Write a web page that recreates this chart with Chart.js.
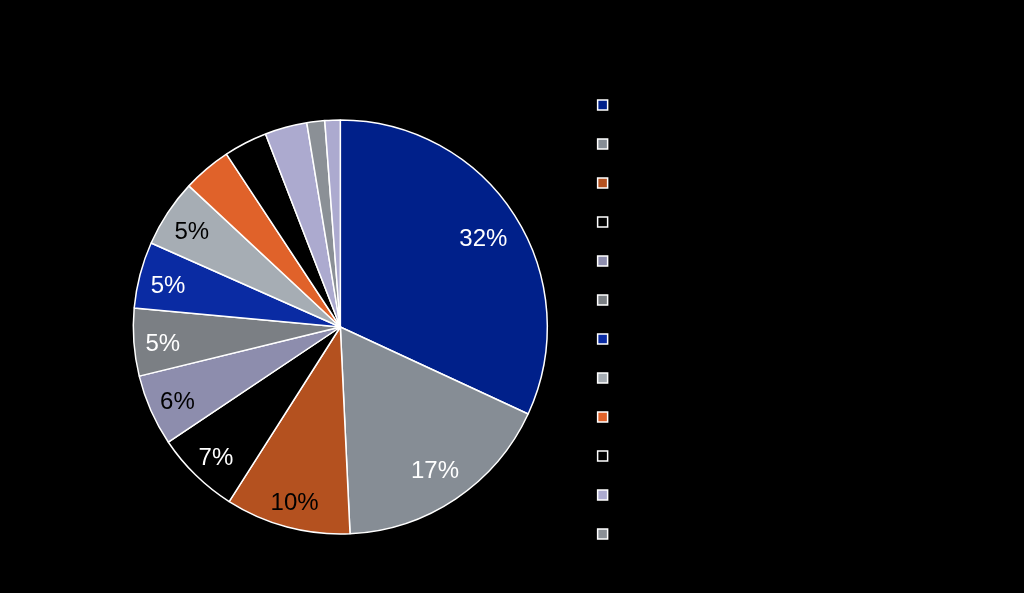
<!DOCTYPE html>
<html>
<head>
<meta charset="utf-8">
<script src="https://cdn.jsdelivr.net/npm/chart.js@4"></script>
<style>
  html, body { margin: 0; padding: 0; background: #000; }
  #wrap { width: 1024px; height: 593px; }
</style>
</head>
<body>
<div id="wrap"><canvas id="chart"></canvas></div>
<script>
// slice shares (percent), read clockwise from 12 o'clock
const categories = [
    'Category 1', 'Category 2', 'Category 3', 'Category 4',
    'Category 5', 'Category 6', 'Category 7', 'Category 8',
    'Category 9', 'Category 10', 'Category 11', 'Category 12', 'Category 13'
];
const shares = [32, 17.4, 9.8, 6.6, 5.6, 5.3, 5.2, 5.3, 3.8, 3.4, 3.3, 1.4, 1.2];
const sliceColors = [
    '#00208a', '#868d95', '#b4511f', '#000000',
    '#8d8dad', '#7b7f84', '#0a2ba3', '#a6adb4',
    '#e0622a', '#000000', '#acaacf', '#8b9096', '#acaacf'
];
const labelColors = [
    '#fff', '#fff', '#000', '#fff', '#000', '#fff', '#fff', '#000',
    '#fff', '#fff', '#000', '#000', '#000'
];

const sliceLabels = {
    id: 'sliceLabels',
    afterDatasetsDraw(chart) {
        const { ctx } = chart;
        const meta = chart.getDatasetMeta(0);
        const total = shares.reduce((a, b) => a + b, 0);
        ctx.save();
        ctx.font = '24px "Liberation Sans", Arial, sans-serif';
        ctx.textAlign = 'center';
        ctx.textBaseline = 'middle';
        meta.data.forEach((arc, i) => {
            const pct = Math.round(shares[i] / total * 100);
            if (pct < 5) return;
            const { x, y, startAngle, endAngle, outerRadius } = arc.getProps(['x', 'y', 'startAngle', 'endAngle', 'outerRadius'], true);
            const mid = (startAngle + endAngle) / 2;
            // big slices sit a little nearer the centre
            const r = outerRadius * (pct > 15 ? 0.82 : 0.86);
            ctx.fillStyle = labelColors[i];
            ctx.fillText(pct + '%', x + Math.cos(mid) * r, y + Math.sin(mid) * r + 4);
        });
        ctx.restore();
    }
};

new Chart(document.getElementById('chart'), {
    type: 'pie',
    data: {
        labels: categories,
        datasets: [{
            data: shares,
            backgroundColor: sliceColors,
            borderColor: '#ffffff',
            borderWidth: 1.5,
            radius: 207,
        }],
    },
    options: {
        responsive: true,
        maintainAspectRatio: false,
        animation: false,
        layout: {
            padding: { left: 110, top: 72, right: 335, bottom: 11 },
        },
        plugins: {
            tooltip: { enabled: false },
            legend: {
                position: 'right',
                align: 'start',
                labels: {
                    color: '#000',
                    boxWidth: 10,
                    boxHeight: 10,
                    padding: 27,
                    font: { size: 12, family: '"Liberation Sans", Arial, sans-serif' },
                    filter: (item) => item.index < 12,
                },
            },
        },
    },
    plugins: [sliceLabels],
});
</script>
</body>
</html>
